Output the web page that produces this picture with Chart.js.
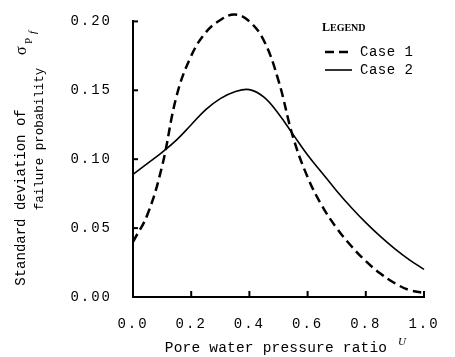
<!DOCTYPE html>
<html><head><meta charset="utf-8">
<script src="https://cdn.jsdelivr.net/npm/chart.js@4.4.1/dist/chart.umd.min.js"></script>
<style>html,body{margin:0;padding:0;background:#fff;}#wrap{width:455px;height:357px;}</style>
</head><body><div id="wrap"><canvas id="c" width="455" height="357"></canvas></div>
<script>
// ---- data ----
const uValues = [0.00,0.05,0.10,0.15,0.20,0.25,0.30,0.35,0.40,0.45,0.50,0.55,0.60,0.65,0.70,0.75,0.80,0.85,0.90,0.95,1.00];
const case1   = [0.040,0.060,0.095,0.146,0.175,0.192,0.201,0.205,0.200,0.186,0.157,0.116,0.087,0.066,0.050,0.037,0.026,0.017,0.010,0.005,0.003];
const case2   = [0.089,0.097,0.105,0.114,0.125,0.136,0.144,0.149,0.1505,0.145,0.133,0.118,0.103,0.090,0.077,0.065,0.054,0.044,0.035,0.027,0.020];
const seriesNames = ['Case 1','Case 2'];
const xTickValues = [0.0,0.2,0.4,0.6,0.8,1.0];
const xTickLabels = ['0.0','0.2','0.4','0.6','0.8','1.0'];
const yTickValues = [0.00,0.05,0.10,0.15,0.20];
const yTickLabels = ['0.00','0.05','0.10','0.15','0.20'];
const yTitleLines = ['Standard deviation of','failure probability'];
const xTitle = 'Pore water pressure ratio';
const legendTitle = 'LEGEND';

const toPts = arr => arr.map((v,i)=>({x:uValues[i], y:v}));

const decor = {
  id:'decor',
  beforeDraw(chart){ chart.ctx.letterSpacing = '2px'; },
  afterDraw(chart){
    const ctx = chart.ctx, xs = chart.scales.x, ys = chart.scales.y;
    ctx.save();
    ctx.letterSpacing = '0px';
    ctx.strokeStyle = '#000'; ctx.fillStyle = '#000';
    // inward tick marks
    ctx.lineWidth = 2;
    yTickValues.slice(1).forEach(v=>{
      const y = ys.getPixelForValue(v);
      ctx.beginPath(); ctx.moveTo(xs.left, y); ctx.lineTo(xs.left+5, y); ctx.stroke();
    });
    xTickValues.slice(1).forEach(v=>{
      const x = xs.getPixelForValue(v);
      ctx.beginPath(); ctx.moveTo(x, ys.bottom); ctx.lineTo(x, ys.bottom-6); ctx.stroke();
    });
    // legend
    ctx.textBaseline = 'alphabetic'; ctx.textAlign = 'left';
    ctx.font = 'bold 12px "Liberation Serif"';
    ctx.fillText(legendTitle[0], 322, 31);
    let w = ctx.measureText(legendTitle[0]).width;
    ctx.font = 'bold 10px "Liberation Serif"';
    ctx.fillText(legendTitle.slice(1), 322 + w, 31);
    const rows = [52, 70];
    chart.data.datasets.forEach((ds,i)=>{
      ctx.save();
      ctx.lineWidth = ds.borderWidth; ctx.setLineDash(ds.borderDash || []);
      ctx.beginPath(); ctx.moveTo(325, rows[i]); ctx.lineTo(352, rows[i]); ctx.stroke();
      ctx.restore();
      ctx.font = '14px "Liberation Mono"'; ctx.textBaseline = 'middle';
      ctx.letterSpacing = '0.5px';
      ctx.fillText(seriesNames[i], 360, rows[i]);
      ctx.letterSpacing = '0px';
    });
    // y title (rotated)
    ctx.save();
    ctx.translate(21, 197.5); ctx.rotate(-Math.PI/2);
    ctx.textAlign = 'center'; ctx.textBaseline = 'middle';
    ctx.font = '14px "Liberation Mono"';
    ctx.fillText(yTitleLines[0], 0, 0);
    ctx.restore();
    ctx.save();
    ctx.translate(40, 139); ctx.rotate(-Math.PI/2);
    ctx.textAlign = 'center'; ctx.textBaseline = 'middle';
    ctx.font = '12.5px "Liberation Mono"';
    ctx.fillText(yTitleLines[1], 0, 0);
    ctx.restore();
    // sigma_Pf
    ctx.save();
    ctx.translate(22, 55); ctx.rotate(-Math.PI/2);
    ctx.textAlign = 'left'; ctx.textBaseline = 'middle';
    ctx.font = '16px "Liberation Serif"';
    ctx.fillText('\u03C3', 0, 0);
    ctx.font = '11px "Liberation Serif"';
    ctx.fillText('P', 11, 7);
    ctx.font = 'italic 11px "Liberation Serif"';
    ctx.fillText('f', 21, 11);
    ctx.restore();
    // x title
    ctx.textAlign = 'center'; ctx.textBaseline = 'middle';
    ctx.font = '14.5px "Liberation Mono"';
    ctx.letterSpacing = '0.2px';
    ctx.fillText(xTitle, 276, 348);
    ctx.letterSpacing = '0px';
    ctx.textAlign = 'left'; ctx.textBaseline = 'alphabetic';
    ctx.font = 'italic 11px "Liberation Serif"';
    ctx.fillText('U', 398, 345);
    ctx.restore();
  }
};

new Chart(document.getElementById('c'), {
  type:'line',
  data:{ datasets:[
    { label:seriesNames[0], data:toPts(case1), borderColor:'#000', borderWidth:2.5, borderDash:[9,5],
      pointRadius:0, tension:0.4, fill:false, clip:false },
    { label:seriesNames[1], data:toPts(case2), borderColor:'#000', borderWidth:1.6,
      pointRadius:0, tension:0.4, fill:false, clip:false }
  ]},
  options:{
    responsive:false, animation:false, devicePixelRatio:1,
    layout:{ padding:{ top:19, right:31, left:0, bottom:0 } },
    plugins:{ legend:{display:false}, tooltip:{enabled:false}, title:{display:false} },
    scales:{
      x:{ type:'linear', min:0, max:1,
        afterBuildTicks: s => { s.ticks = xTickValues.map(v=>({value:v})); },
        afterFit: s => { s.height = 60; },
        grid:{ display:false },
        border:{ display:true, color:'#000', width:2 },
        ticks:{ color:'#000', font:{ family:'"Liberation Mono"', size:14 }, padding:11, maxRotation:0,
          callback:(v,i)=>xTickLabels[i] } },
      y:{ type:'linear', min:0, max:0.2,
        afterBuildTicks: s => { s.ticks = yTickValues.map(v=>({value:v})); },
        afterFit: s => { s.width = 133; },
        grid:{ display:false },
        border:{ display:true, color:'#000', width:2 },
        ticks:{ color:'#000', font:{ family:'"Liberation Mono"', size:14 }, padding:13,
          callback:(v,i)=>yTickLabels[i] } }
    }
  },
  plugins:[decor]
});
</script></body></html>
